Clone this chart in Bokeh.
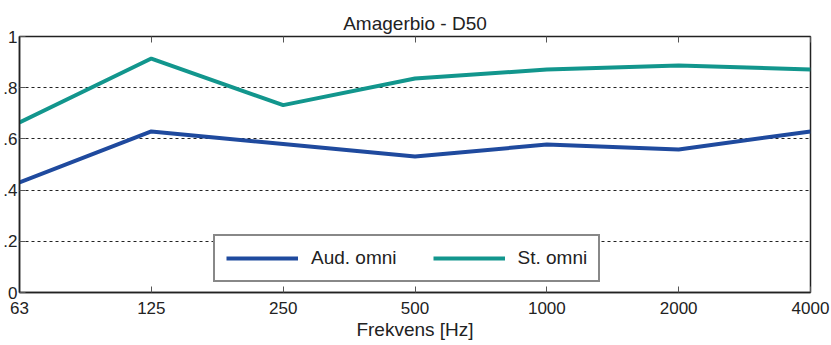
from bokeh.plotting import figure
from bokeh.models import FixedTicker, LinearAxis, Range1d, Legend, LegendItem
from bokeh.embed import file_html
from bokeh.resources import INLINE

freq_labels = ["63", "125", "250", "500", "1000", "2000", "4000"]
aud_omni = [0.430, 0.629, 0.580, 0.531, 0.578, 0.559, 0.629]
st_omni = [0.664, 0.914, 0.732, 0.836, 0.871, 0.887, 0.871]
y_ticks = [0, 0.2, 0.4, 0.6, 0.8, 1.0]
y_tick_labels = ["0", ".2", ".4", ".6", ".8", "1"]

FONT = "Liberation Sans"
xs = list(range(len(freq_labels)))

p = figure(width=831, height=345, output_backend="svg", toolbar_location=None,
           x_range=Range1d(0, len(freq_labels) - 1), y_range=Range1d(0, 1),
           title="Amagerbio - D50")
p.min_border_left = 0
p.min_border_right = 21
p.min_border_top = 36
p.min_border_bottom = 53
p.outline_line_color = "#222222"
p.outline_line_width = 1.5
p.background_fill_color = "white"
p.border_fill_color = "white"

p.title.align = "center"
p.title.text_font = FONT
p.title.text_font_size = "19px"
p.title.text_font_style = "normal"
p.title.text_color = "#222222"
p.title.offset = 0
p.title.standoff = 5

xa = p.xaxis[0]
xa.ticker = FixedTicker(ticks=xs)
xa.major_label_overrides = {i: l for i, l in zip(xs, freq_labels)}
xa.axis_label = "Frekvens [Hz]"
ya = p.yaxis[0]
ya.ticker = FixedTicker(ticks=y_ticks)
ya.major_label_overrides = {t: l for t, l in zip(y_ticks, y_tick_labels)}

for ax in (xa, ya):
    ax.major_tick_in = 6
    ax.major_tick_out = 0
    ax.minor_tick_line_color = None
    ax.major_tick_line_color = "#555555"
    ax.axis_line_color = "#222222"
    ax.axis_line_width = 1.5
    ax.major_label_text_font = FONT
    ax.major_label_text_font_size = "17px"
    ax.major_label_text_color = "#222222"
    ax.axis_label_text_font = FONT
    ax.axis_label_text_font_size = "19px"
    ax.axis_label_text_font_style = "normal"
    ax.axis_label_text_color = "#222222"
xa.major_label_standoff = 9
xa.axis_label_standoff = 2
ya.major_label_standoff = 2

top = LinearAxis(ticker=FixedTicker(ticks=xs), major_tick_in=6, major_tick_out=0,
                 minor_tick_line_color=None, major_label_text_font_size="0px",
                 major_label_standoff=0, axis_line_color=None,
                 major_tick_line_color="#555555")
top.major_label_overrides = {i: "" for i in xs}
p.add_layout(top, "above")

p.xgrid.grid_line_color = None
p.ygrid.ticker = FixedTicker(ticks=y_ticks)
p.ygrid.grid_line_color = "#222222"
p.ygrid.grid_line_dash = "3 3"
p.ygrid.grid_line_width = 1

r1 = p.line(xs, aud_omni, line_color="#1F4A9E", line_width=4)
r2 = p.line(xs, st_omni, line_color="#12968D", line_width=4)

legend = Legend(items=[LegendItem(label="Aud. omni", renderers=[r1]),
                       LegendItem(label="St. omni", renderers=[r2])],
                orientation="horizontal", location=(194, 10))
legend.glyph_width = 72
legend.glyph_height = 20
legend.label_standoff = 13
legend.spacing = 36
legend.padding = 11
legend.margin = 0
legend.label_width = 0
legend.label_height = 20
legend.label_text_font = FONT
legend.label_text_font_size = "19px"
legend.label_text_color = "#222222"
legend.border_line_color = "#111111"
legend.border_line_width = 2
legend.background_fill_alpha = 1
p.add_layout(legend, "center")

open("out.html", "w").write(file_html(p, INLINE))
